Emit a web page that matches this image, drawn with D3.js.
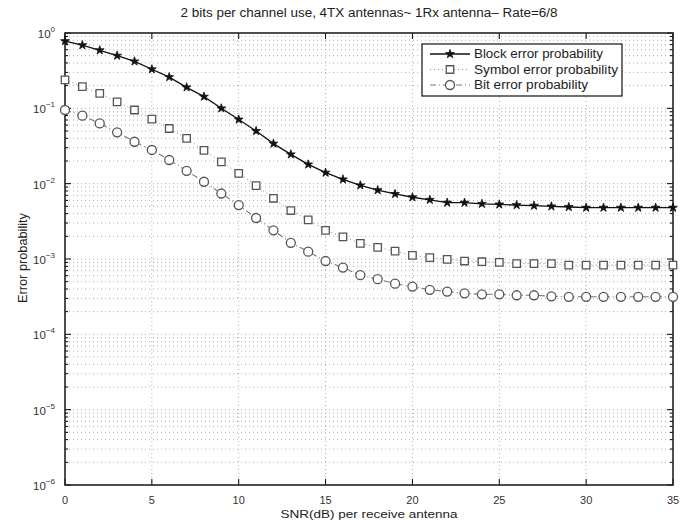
<!DOCTYPE html>
<html><head><meta charset="utf-8">
<script src="https://cdn.jsdelivr.net/npm/d3@7"></script>
<style>body{margin:0;background:#fff}svg{display:block;font-family:"Liberation Sans",Arial,sans-serif}</style>
</head><body><svg id="c" width="694" height="524"></svg>
<script>
const snr = d3.range(0, 36);
const blockErr = [0.78,0.69,0.59,0.50,0.42,0.33,0.26,0.19,0.143,0.10,0.071,0.050,0.034,0.0245,0.018,0.014,0.0114,0.0095,0.0082,0.0073,0.0066,0.0061,0.0056,0.0056,0.0054,0.0053,0.0052,0.0051,0.0050,0.0049,0.0048,0.0048,0.0048,0.0048,0.0048,0.0048];
const symbolErr = [0.238,0.194,0.158,0.122,0.095,0.072,0.054,0.040,0.0277,0.0195,0.0137,0.0094,0.0064,0.0044,0.0033,0.0024,0.00197,0.00161,0.00143,0.00127,0.00112,0.00104,0.00099,0.00094,0.00092,0.00090,0.00087,0.00087,0.00087,0.00083,0.00083,0.00083,0.00083,0.00083,0.00083,0.00083];
const bitErr = [0.095,0.080,0.063,0.048,0.036,0.028,0.0206,0.0148,0.0106,0.0074,0.0052,0.0035,0.0024,0.00164,0.00125,0.00094,0.00077,0.00061,0.00054,0.00047,0.00043,0.00039,0.00037,0.00035,0.00034,0.00034,0.00033,0.00033,0.00032,0.000315,0.000315,0.000315,0.000315,0.000315,0.000315,0.000315];
const xTicks = [0,5,10,15,20,25,30,35];
const yTickExps = [0,-1,-2,-3,-4,-5,-6];
const titleText = "2 bits per channel use, 4TX antennas~ 1Rx antenna\u2013 Rate=6/8";
const xLabel = "SNR(dB) per receive antenna";
const yLabel = "Error probability";
const legendLabels = ["Block error probability","Symbol error probability","Bit error probability"];

const svg = d3.select("#c");
const L = 65, R = 673, T = 33, B = 485;
const x = d3.scaleLinear().domain([0,35]).range([L,R]);
const y = d3.scaleLog().domain([1e-6,1]).range([B,T]);

// grid
const g = svg.append("g");
const gridCol = "#9a9a9a";
xTicks.slice(1,-1).forEach(t=>{
  g.append("line").attr("x1",x(t)).attr("x2",x(t)).attr("y1",T).attr("y2",B)
   .attr("stroke",gridCol).attr("stroke-width",0.8).attr("stroke-dasharray","1,3");
});
const minor = [];
for (let e=-6;e<0;e++) for (let m=1;m<10;m++) minor.push({v:m*Math.pow(10,e), major:m===1});
minor.forEach(d=>{
  if (d.v<=1e-6) return;
  g.append("line").attr("x1",L).attr("x2",R).attr("y1",y(d.v)).attr("y2",y(d.v))
   .attr("stroke",gridCol).attr("stroke-width",0.8).attr("stroke-dasharray","1,3");
});

// ticks inward
const tk = svg.append("g").attr("stroke","#000").attr("stroke-width",1);
xTicks.forEach(t=>{
  tk.append("line").attr("x1",x(t)).attr("x2",x(t)).attr("y1",B).attr("y2",B-6);
  tk.append("line").attr("x1",x(t)).attr("x2",x(t)).attr("y1",T).attr("y2",T+6);
});
minor.concat([{v:1,major:true}]).forEach(d=>{
  const len = d.major?6:3;
  tk.append("line").attr("x1",L).attr("x2",L+len).attr("y1",y(d.v)).attr("y2",y(d.v));
  tk.append("line").attr("x1",R).attr("x2",R-len).attr("y1",y(d.v)).attr("y2",y(d.v));
});

// frame
svg.append("rect").attr("x",L).attr("y",T).attr("width",R-L).attr("height",B-T)
  .attr("fill","none").attr("stroke","#222").attr("stroke-width",1.6);

// tick labels
xTicks.forEach(t=>{
  svg.append("text").attr("x",x(t)).attr("y",B+19).attr("text-anchor","middle")
    .attr("font-size",11).attr("fill","#333").text(t);
});
yTickExps.forEach(e=>{
  const tx = svg.append("text").attr("x",L-10).attr("y",y(Math.pow(10,e))+5).attr("text-anchor","end")
    .attr("font-size",11.5).attr("fill","#333");
  tx.append("tspan").text("10");
  tx.append("tspan").attr("dy",-6).attr("font-size",8).text(e===0?"0":"\u2212"+(-e));
});

// title & labels
svg.append("text").attr("x",(L+R)/2).attr("y",17).attr("text-anchor","middle")
  .attr("font-size",12).attr("fill","#222")
  .attr("textLength",377).attr("lengthAdjust","spacingAndGlyphs").text(titleText);
svg.append("text").attr("x",(L+R)/2).attr("y",518).attr("text-anchor","middle")
  .attr("font-size",11.5).attr("fill","#222")
  .attr("textLength",177).attr("lengthAdjust","spacingAndGlyphs").text(xLabel);
svg.append("text").attr("transform","translate(27,258) rotate(-90)").attr("text-anchor","middle")
  .attr("font-size",12).attr("fill","#222")
  .attr("textLength",90).attr("lengthAdjust","spacingAndGlyphs").text(yLabel);

// series
const line = d3.line().x((d,i)=>x(snr[i])).y(d=>y(d));
const starSym = d3.symbol().type(d3.symbolStar).size(24);
const sqSym = d3.symbol().type(d3.symbolSquare).size(56);
const series = [
  {data:blockErr, stroke:"#111", width:1.3, dash:null, mark:"star"},
  {data:symbolErr, stroke:"#888", width:1, dash:"1,3", mark:"square"},
  {data:bitErr, stroke:"#777", width:1.1, dash:"6,3,1,3", mark:"circle"}
];
series.forEach(s=>{
  svg.append("path").attr("d",line(s.data)).attr("fill","none").attr("stroke",s.stroke)
    .attr("stroke-width",s.width).attr("stroke-dasharray",s.dash);
});
function drawMark(sel, type, cx, cy){
  if (type==="star") sel.append("path").attr("d",starSym()).attr("transform",`translate(${cx},${cy})`)
     .attr("fill","#111").attr("stroke","#111").attr("stroke-width",0.8);
  else if (type==="square") sel.append("path").attr("d",sqSym()).attr("transform",`translate(${cx},${cy})`)
     .attr("fill","#fff").attr("stroke","#555").attr("stroke-width",1.3);
  else sel.append("circle").attr("cx",cx).attr("cy",cy).attr("r",4.5)
     .attr("fill","#fff").attr("stroke","#555").attr("stroke-width",1.3);
}
series.forEach(s=>{
  const gg = svg.append("g");
  s.data.forEach((d,i)=>drawMark(gg, s.mark, x(snr[i]), y(d)));
});

// legend
const legendW = [129,144,114];
const lg = svg.append("g");
lg.append("rect").attr("x",422).attr("y",44).attr("width",200).attr("height",52)
  .attr("fill","#fff").attr("stroke","#222").attr("stroke-width",1.3);
series.forEach((s,i)=>{
  const ly = 54 + i*15.5;
  lg.append("line").attr("x1",430).attr("x2",470).attr("y1",ly).attr("y2",ly)
    .attr("stroke",s.stroke).attr("stroke-width",s.width).attr("stroke-dasharray",s.dash);
  drawMark(lg, s.mark, 450, ly);
  lg.append("text").attr("x",474).attr("y",ly+4).attr("font-size",12).attr("fill","#222")
    .attr("textLength",legendW[i]).attr("lengthAdjust","spacingAndGlyphs").text(legendLabels[i]);
});
</script></body></html>
